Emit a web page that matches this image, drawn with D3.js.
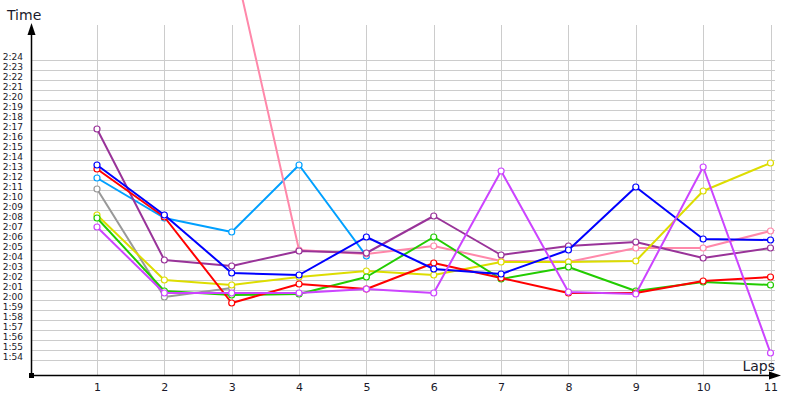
<!DOCTYPE html>
<html>
<head>
<meta charset="utf-8">
<script src="https://cdn.jsdelivr.net/npm/d3@7"></script>
<style>
  body { margin: 0; background: #fff; }
  svg { display: block; }
  .tick text { font-family: "DejaVu Sans", sans-serif; fill: #1a1a2a; }
</style>
</head>
<body>
<svg width="800" height="400"></svg>
<script>
// laps on the x axis
var laps = [1, 2, 3, 4, 5, 6, 7, 8, 9, 10, 11];

// lap times in seconds (null = no lap)
var red       = [133.1, 128.3, 119.7, 121.6, 121.1, 123.7, 122.2, 120.7, 120.7, 121.9, 122.3];
var blue      = [133.5, 128.5, 122.7, 122.5, 126.3, 123.1, 122.6, 125.0, 131.3, 126.1, 126.0];
var lightBlue = [132.2, 128.2, 126.8, 133.5, 124.4, null, null, null, null, null, null];
var gray      = [131.1, 120.3, 121.2, null, null, null, null, null, null, null, null];
var yellow    = [128.5, 122.0, 121.5, 122.3, 122.9, 122.5, 123.8, 123.8, 123.9, 130.9, 133.7];
var green     = [128.2, 120.9, 120.5, 120.6, 122.3, 126.3, 122.1, 123.3, 120.9, 121.8, 121.5];
var magenta   = [127.3, 120.7, 120.7, 120.7, 121.1, 120.7, 132.9, 120.8, 120.6, 133.3, 114.7];
var purple    = [137.1, 124.0, 123.4, 124.9, 124.7, 128.4, 124.5, 125.4, 125.8, 124.2, 125.2];
var pink      = [null, null, 154.9, 125.0, 124.6, 125.4, 123.9, 123.8, 125.2, 125.2, 126.9];

var series = [
  { color: "#999999", values: gray },
  { color: "#00a0ff", values: lightBlue },
  { color: "#ff88aa", values: pink },
  { color: "#993399", values: purple },
  { color: "#dddd00", values: yellow },
  { color: "#22cc00", values: green },
  { color: "#ff0000", values: red },
  { color: "#0000ff", values: blue },
  { color: "#cc44ff", values: magenta }
];

// y tick labels: one every second from 1:54 to 2:24
var timeTicks = d3.range(114, 145);

var svg = d3.select("svg");
var x0 = 31, yAxisTop = 25, xAxisY = 375, xAxisEnd = 779;

var x = d3.scaleLinear().domain([1, 11]).range([97, 770.5]);
var y = d3.scaleLinear().domain([114, 144]).range([360, 60]);

function fmt(s) {
  var m = Math.floor(s / 60), sec = s - m * 60;
  return m + ":" + (sec < 10 ? "0" : "") + sec;
}

// horizontal grid
svg.append("g")
  .selectAll("line")
  .data(timeTicks)
  .enter().append("line")
    .attr("x1", x0).attr("x2", 775)
    .attr("y1", d => Math.round(y(d)) + 0.5).attr("y2", d => Math.round(y(d)) + 0.5)
    .style("stroke", "#cccccc");

// vertical grid
svg.append("g")
  .selectAll("line")
  .data(laps)
  .enter().append("line")
    .attr("x1", d => Math.round(x(d)) + 0.5).attr("x2", d => Math.round(x(d)) + 0.5)
    .attr("y1", yAxisTop).attr("y2", xAxisY)
    .style("stroke", "#cccccc");

// y tick labels
var yAxis = svg.append("g")
  .attr("transform", "translate(23,-1)")
  .call(d3.axisLeft(y).tickValues(timeTicks).tickFormat(fmt).tickSize(0).tickPadding(0));
yAxis.select(".domain").remove();
yAxis.selectAll("text").attr("dy", 0).style("font-size", "9px");

// x tick labels
var xAxis = svg.append("g")
  .attr("transform", "translate(0," + xAxisY + ")")
  .call(d3.axisBottom(x).tickValues(laps).tickFormat(d3.format("d")).tickSize(0).tickPadding(8));
xAxis.select(".domain").remove();
xAxis.selectAll("text").style("font-size", "11px");

// axes with arrows
svg.append("line").attr("x1", x0 + 0.5).attr("x2", x0 + 0.5).attr("y1", xAxisY).attr("y2", yAxisTop + 8)
  .style("stroke", "#000").style("stroke-width", 1.5);
svg.append("path").attr("d", "M" + (x0 + 0.5) + "," + (yAxisTop - 2) + "l-4,12h8z").style("fill", "#000");
svg.append("line").attr("x1", x0).attr("x2", xAxisEnd - 8).attr("y1", xAxisY + 0.5).attr("y2", xAxisY + 0.5)
  .style("stroke", "#000").style("stroke-width", 1.5);
svg.append("path").attr("d", "M" + (xAxisEnd + 2) + "," + (xAxisY + 0.5) + "l-12,-4v8z").style("fill", "#000");
svg.append("rect").attr("x", x0 - 2).attr("y", xAxisY - 2).attr("width", 5).attr("height", 5).style("fill", "#000");

// axis titles
svg.append("text").attr("x", 7).attr("y", 20).text("Time")
  .style("font-family", "DejaVu Sans, sans-serif").style("font-size", "14px").style("fill", "#1a1a2a");
svg.append("text").attr("x", 775).attr("y", 371).attr("text-anchor", "end").text("Laps")
  .style("font-family", "DejaVu Sans, sans-serif").style("font-size", "14px").style("fill", "#1a1a2a");

// series
var line = d3.line()
  .defined(d => d.v != null)
  .x(d => x(d.lap))
  .y(d => y(d.v));

series.forEach(function (s) {
  var pts = s.values.map((v, i) => ({ lap: laps[i], v: v }));
  svg.append("path")
    .datum(pts)
    .attr("d", line)
    .style("fill", "none")
    .style("stroke", s.color)
    .style("stroke-width", 2)
    .style("stroke-linejoin", "round");
  svg.append("g")
    .selectAll("circle")
    .data(pts.filter(d => d.v != null))
    .enter().append("circle")
      .attr("cx", d => x(d.lap))
      .attr("cy", d => y(d.v))
      .attr("r", 3)
      .style("fill", "#fff")
      .style("stroke", s.color)
      .style("stroke-width", 1.2);
});
</script>
</body>
</html>
